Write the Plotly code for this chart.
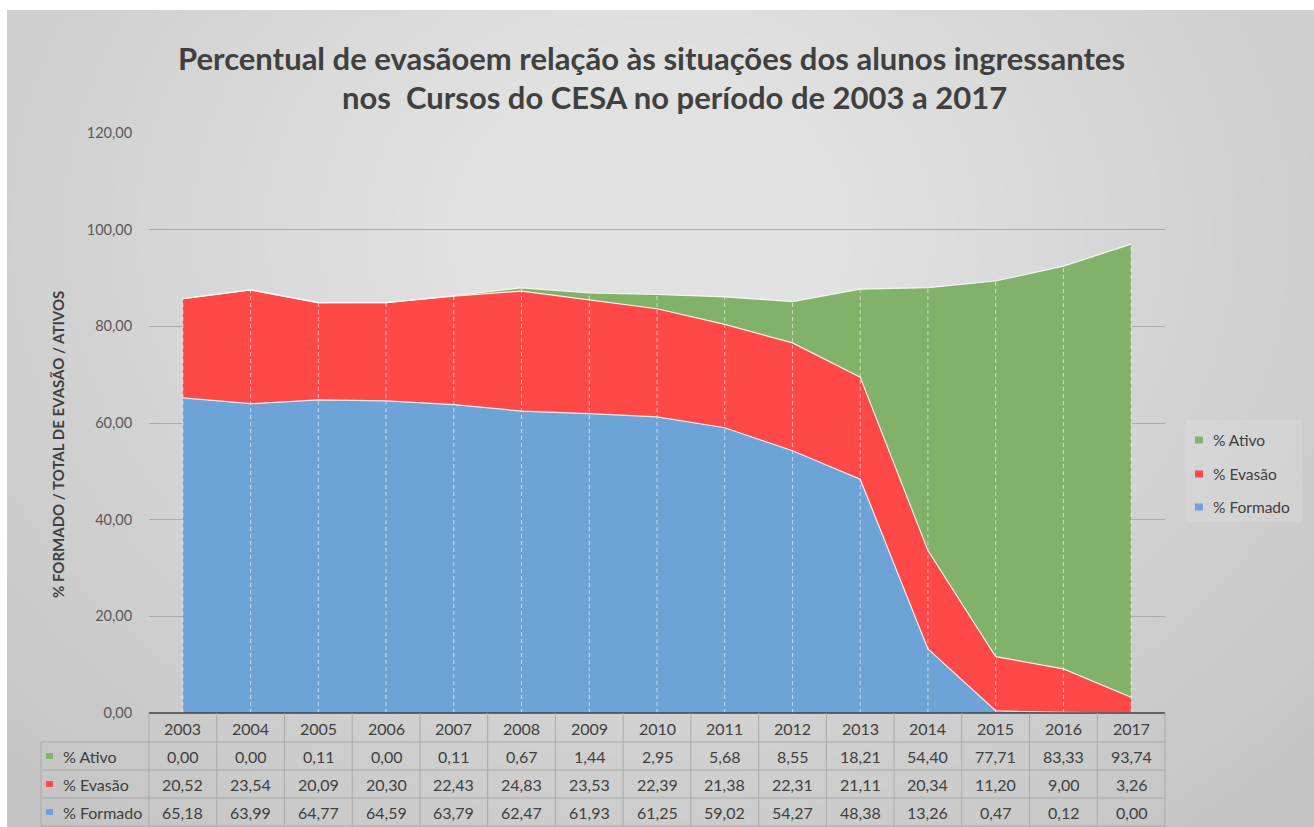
import plotly.graph_objects as go

years = ["2003", "2004", "2005", "2006", "2007", "2008", "2009", "2010",
         "2011", "2012", "2013", "2014", "2015", "2016", "2017"]
ativo = [0.00, 0.00, 0.11, 0.00, 0.11, 0.67, 1.44, 2.95, 5.68, 8.55, 18.21, 54.40, 77.71, 83.33, 93.74]
evasao = [20.52, 23.54, 20.09, 20.30, 22.43, 24.83, 23.53, 22.39, 21.38, 22.31, 21.11, 20.34, 11.20, 9.00, 3.26]
formado = [65.18, 63.99, 64.77, 64.59, 63.79, 62.47, 61.93, 61.25, 59.02, 54.27, 48.38, 13.26, 0.47, 0.12, 0.00]
series_names = ["% Ativo", "% Evasão", "% Formado"]
y_ticks = [0, 20, 40, 60, 80, 100, 120]

C_BLUE = "#6ea3d7"
C_RED = "#ff4848"
C_GREEN = "#82b26a"
TXT = "#404040"
FONT = "Lato"

W, H = 1314, 827
L, R, T, B = 149, 1165, 133, 713


def xp(px):
    return (px - L) / (R - L)


def yp(py):
    return (B - py) / (B - T)


fig = go.Figure()

edge = dict(color="rgba(255,255,255,0.85)", width=1.2)
fig.add_trace(go.Scatter(x=years, y=formado, name="% Formado", stackgroup="one", mode="lines",
                         line=edge, fillcolor=C_BLUE, showlegend=False, hoverinfo="skip"))
fig.add_trace(go.Scatter(x=years, y=evasao, name="% Evasão", stackgroup="one", mode="lines",
                         line=edge, fillcolor=C_RED, showlegend=False, hoverinfo="skip"))
fig.add_trace(go.Scatter(x=years, y=ativo, name="% Ativo", stackgroup="one", mode="lines",
                         line=edge, fillcolor=C_GREEN, showlegend=False, hoverinfo="skip"))

# drop lines
totals = [a + e + f for a, e, f in zip(ativo, evasao, formado)]
dx, dy = [], []
for yr, tot in zip(years, totals):
    dx += [yr, yr, None]
    dy += [0, tot, None]
fig.add_trace(go.Scatter(x=dx, y=dy, mode="lines", showlegend=False, hoverinfo="skip",
                         line=dict(color="rgba(255,255,255,0.6)", width=1, dash="4px,3px")))

shapes = []
# outer background with gradient approximation
shapes.append(dict(type="rect", xref="paper", yref="paper", x0=xp(7), x1=xp(W), y0=yp(10), y1=yp(H),
                   fillcolor="#c4c4c4", line=dict(width=0), layer="below"))
cx, cy = 650, 230
n = 36
for i in range(n):
    f = 1 - i / n
    rx, ry = 920 * f, 760 * f
    shapes.append(dict(type="circle", xref="paper", yref="paper",
                       x0=xp(cx - rx), x1=xp(cx + rx), y0=yp(cy - ry), y1=yp(cy + ry),
                       fillcolor="rgba(255,255,255,0.032)", line=dict(width=0), layer="below"))
# white margin (top/left)
shapes.append(dict(type="rect", xref="paper", yref="paper", x0=xp(0), x1=xp(W), y0=yp(0), y1=yp(10),
                   fillcolor="white", line=dict(width=0), layer="below"))
shapes.append(dict(type="rect", xref="paper", yref="paper", x0=xp(0), x1=xp(7), y0=yp(0), y1=yp(H),
                   fillcolor="white", line=dict(width=0), layer="below"))

# legend box
shapes.append(dict(type="rect", xref="paper", yref="paper", x0=xp(1186), x1=xp(1302), y0=yp(420), y1=yp(522),
                   fillcolor="rgba(255,255,255,0.12)", line=dict(width=0), layer="below"))

# axis line at 0
shapes.append(dict(type="line", xref="paper", yref="paper", x0=0, x1=1, y0=0, y1=0,
                   line=dict(color="#404040", width=1.5)))

# data table
GRID = "#a9a9a9"
row_lines = [742, 770, 798, 826]
for ry_ in row_lines:
    shapes.append(dict(type="line", xref="paper", yref="paper", x0=xp(41), x1=xp(R), y0=yp(ry_), y1=yp(ry_),
                       line=dict(color=GRID, width=1)))
shapes.append(dict(type="line", xref="paper", yref="paper", x0=xp(41), x1=xp(41), y0=yp(742), y1=yp(826),
                   line=dict(color=GRID, width=1)))
colw = (R - L) / len(years)
for i in range(len(years) + 1):
    xx = L + i * colw
    shapes.append(dict(type="line", xref="paper", yref="paper", x0=xp(xx), x1=xp(xx), y0=yp(B), y1=yp(826),
                       line=dict(color=GRID, width=1)))

annotations = []
row_y = [756, 784, 812]
row_data = [ativo, evasao, formado]
row_colors = [C_GREEN, C_RED, C_BLUE]
TFS = 16


def fmt(v):
    return f"{v:.2f}".replace(".", ",")


for i, yr in enumerate(years):
    annotations.append(dict(x=i, xref="x", y=yp(728), yref="paper", text=yr, showarrow=False,
                            font=dict(family=FONT, size=TFS, color=TXT), xanchor="center", yanchor="middle"))
    for vals, ry_ in zip(row_data, row_y):
        annotations.append(dict(x=i, xref="x", y=yp(ry_), yref="paper", text=fmt(vals[i]), showarrow=False,
                                font=dict(family=FONT, size=TFS, color=TXT), xanchor="center", yanchor="middle"))

for name, col, ry_ in zip(series_names, row_colors, row_y):
    shapes.append(dict(type="rect", xref="paper", yref="paper", x0=xp(46), x1=xp(53), y0=yp(ry_ - 3), y1=yp(ry_ + 3),
                       fillcolor=col, line=dict(width=0)))
    annotations.append(dict(x=xp(61), xref="paper", y=yp(ry_), yref="paper", text=name, showarrow=False,
                            font=dict(family=FONT, size=TFS, color=TXT), xanchor="left", yanchor="middle"))

# legend
leg_y = [440, 474, 507]
for name, col, ly in zip(series_names, row_colors, leg_y):
    shapes.append(dict(type="rect", xref="paper", yref="paper", x0=xp(1195), x1=xp(1203), y0=yp(ly - 3.5), y1=yp(ly + 3.5),
                       fillcolor=col, line=dict(width=0)))
    annotations.append(dict(x=xp(1211), xref="paper", y=yp(ly), yref="paper", text=name, showarrow=False,
                            font=dict(family=FONT, size=15.5, color=TXT), xanchor="left", yanchor="middle"))

# titles
annotations.append(dict(x=xp(651), xref="paper", y=yp(58), yref="paper",
                        text="<b>Percentual de evasãoem relação às situações dos alunos ingressantes</b>",
                        showarrow=False, font=dict(family=FONT, size=31, color=TXT),
                        xanchor="center", yanchor="middle"))
annotations.append(dict(x=xp(674), xref="paper", y=yp(97), yref="paper",
                        text="<b>nos  Cursos do CESA no período de 2003 a 2017</b>",
                        showarrow=False, font=dict(family=FONT, size=31, color=TXT),
                        xanchor="center", yanchor="middle"))
annotations.append(dict(x=xp(58), xref="paper", y=yp(445), yref="paper",
                        text="<b>% FORMADO / TOTAL DE EVASÃO / ATIVOS</b>", textangle=-90,
                        showarrow=False, font=dict(family=FONT, size=15, color=TXT),
                        xanchor="center", yanchor="middle"))

fig.update_layout(
    width=W, height=H,
    margin=dict(l=L, r=W - R, t=T, b=H - B, pad=0),
    paper_bgcolor="white",
    plot_bgcolor="rgba(0,0,0,0)",
    separators=",.",
    showlegend=False,
    shapes=shapes,
    annotations=annotations,
    xaxis=dict(type="category", range=[-0.5, len(years) - 0.5], showgrid=False, showticklabels=False,
               zeroline=False, showline=False, ticks=""),
    yaxis=dict(range=[0, 120], tickvals=y_ticks, tickformat=".2f", showgrid=True,
               gridcolor="#ababab", gridwidth=1, zeroline=False, showline=False,
               ticks="outside", ticklen=13, tickcolor="rgba(0,0,0,0)",
               tickfont=dict(family=FONT, size=14.5, color="#595959")),
)

fig.write_html("out.html", config={"displayModeBar": False},
               post_script="document.body.style.margin='0px';")
